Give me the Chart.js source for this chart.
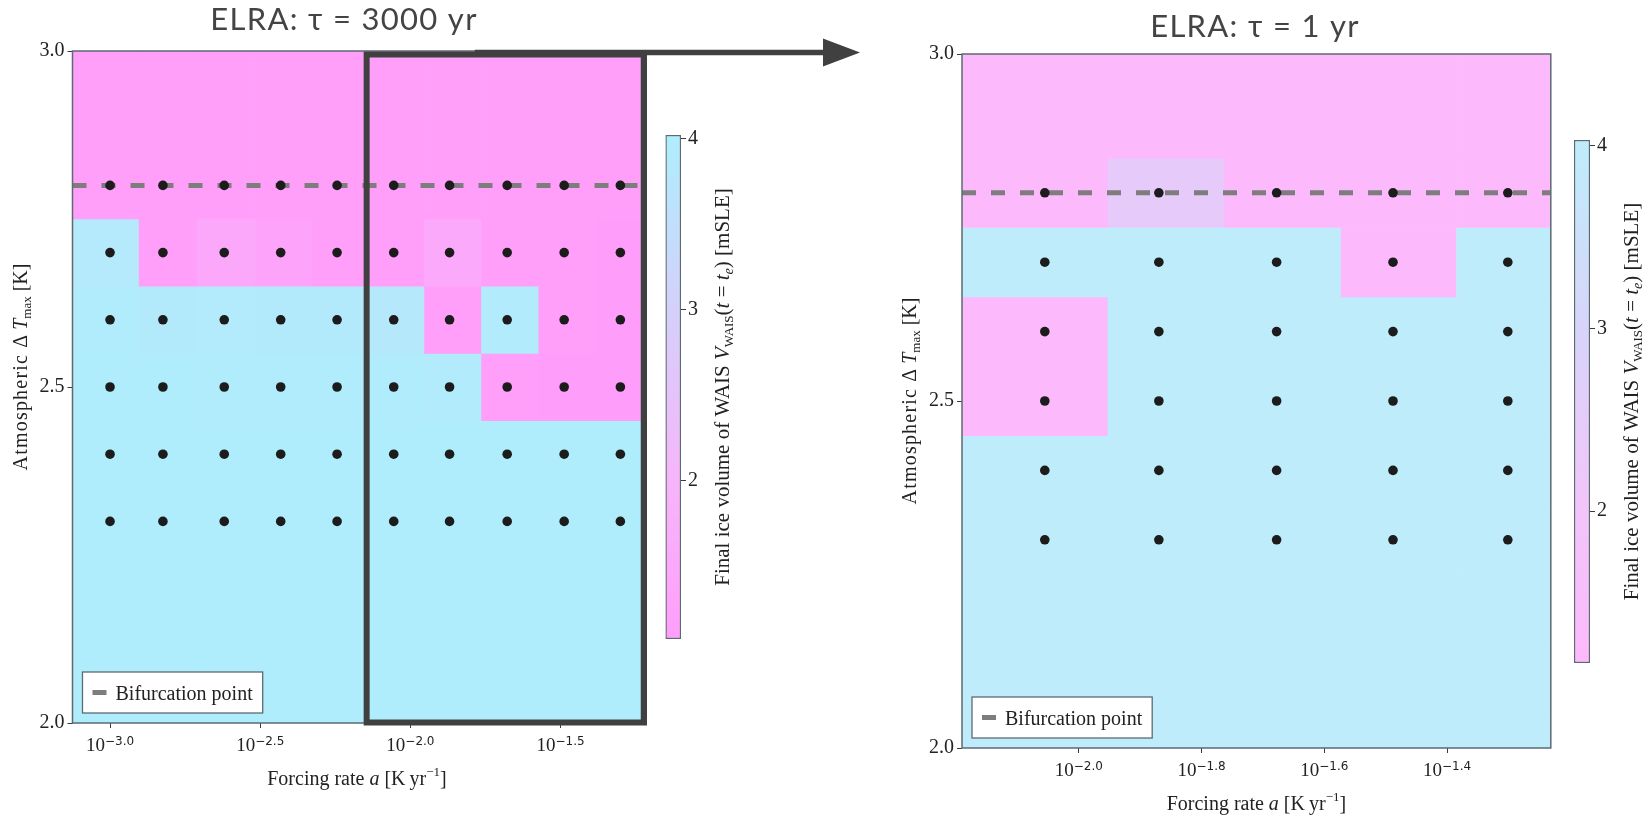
<!DOCTYPE html>
<html>
<head>
<meta charset="utf-8">
<title>ELRA forcing-rate experiments</title>
<script src="https://cdn.jsdelivr.net/npm/chart.js@4.4.1/dist/chart.umd.min.js"></script>
<style>
  html, body { margin: 0; padding: 0; background: #ffffff; }
  body { width: 1648px; height: 818px; position: relative; overflow: hidden; }
  canvas { position: absolute; top: 0; }
</style>
</head>
<body>
<canvas id="mapSlow" width="880" height="818" style="left:0px"></canvas>
<canvas id="barSlow" width="200" height="818" style="left:600px"></canvas>
<canvas id="mapFast" width="768" height="818" style="left:880px"></canvas>
<canvas id="barFast" width="168" height="818" style="left:1480px"></canvas>
<script>
// ---------------------------------------------------------------------------
// Data
// ---------------------------------------------------------------------------
// Rows of the result grid: maximum atmospheric warming (K), bottom to top.
const tempLevels = [2.0, 2.1, 2.2, 2.3, 2.4, 2.5, 2.6, 2.7, 2.8, 2.9, 3.0];
// Warming levels at which model runs were made (dots).
const simulatedTemps = [2.3, 2.4, 2.5, 2.6, 2.7, 2.8];
// Warming at the bifurcation point (dashed line).
const bifurcationTemp = 2.8;

// Forcing rates a (K/yr).
const ratesSlow = [0.001, 0.0015, 0.0024, 0.0037, 0.0057, 0.0088, 0.0135, 0.021, 0.0325, 0.05];
const ratesFast = [0.0088, 0.0135, 0.021, 0.0325, 0.05];

// Final WAIS ice volume (mSLE); one row per entry of tempLevels.
const volumeSlow = [
  [3.98, 3.98, 3.98, 3.98, 3.98, 3.98, 3.98, 3.98, 3.98, 3.98], // 2.0
  [3.98, 3.98, 3.98, 3.98, 3.98, 3.98, 3.98, 3.98, 3.98, 3.98], // 2.1
  [3.98, 3.98, 3.98, 3.98, 3.98, 3.98, 3.98, 3.98, 3.98, 3.98], // 2.2
  [3.98, 3.98, 3.98, 3.98, 3.98, 3.98, 3.98, 3.98, 3.98, 3.98], // 2.3
  [3.98, 3.98, 3.98, 3.98, 3.98, 3.97, 3.97, 3.97, 3.97, 3.97], // 2.4
  [3.97, 3.97, 3.96, 3.96, 3.95, 3.94, 3.93, 1.10, 1.09, 1.09], // 2.5
  [3.96, 3.90, 3.89, 3.90, 3.90, 3.80, 1.11, 3.93, 1.10, 1.09], // 2.6
  [3.84, 1.12, 1.45, 1.28, 1.12, 1.10, 1.52, 1.11, 1.10, 1.09], // 2.7
  [1.10, 1.10, 1.10, 1.10, 1.10, 1.10, 1.10, 1.10, 1.10, 1.10], // 2.8
  [1.10, 1.10, 1.10, 1.10, 1.10, 1.10, 1.10, 1.10, 1.10, 1.10], // 2.9
  [1.10, 1.10, 1.10, 1.10, 1.10, 1.10, 1.10, 1.10, 1.10, 1.10]  // 3.0
];
const volumeFast = [
  [4.00, 4.00, 4.00, 4.00, 4.00], // 2.0
  [4.00, 4.00, 4.00, 4.00, 4.00], // 2.1
  [4.00, 4.00, 4.00, 4.00, 4.00], // 2.2
  [4.00, 4.00, 4.00, 4.00, 4.00], // 2.3
  [4.00, 4.00, 4.00, 4.00, 4.00], // 2.4
  [1.20, 4.00, 4.00, 4.00, 4.00], // 2.5
  [1.20, 4.00, 4.00, 4.00, 4.00], // 2.6
  [4.00, 4.00, 4.00, 1.20, 4.00], // 2.7
  [1.20, 2.45, 1.20, 1.20, 1.20], // 2.8
  [1.20, 1.20, 1.20, 1.20, 1.20], // 2.9
  [1.20, 1.20, 1.20, 1.20, 1.20]  // 3.0
];

// Tick labels.
const rateTickExponentsSlow = [-3.0, -2.5, -2.0, -1.5];
const rateTickExponentsFast = [-2.0, -1.8, -1.6, -1.4];
const tempTicks = [2.0, 2.5, 3.0];
const volumeTicks = [2, 3, 4];
// Colour-bar limits (mSLE).
const volumeRangeSlow = [1.076, 4.02];
const volumeRangeFast = [1.17, 4.03];

// Text.
const titleSlow = 'ELRA: \u03c4 = 3000 yr';
const titleFast = 'ELRA: \u03c4 = 1 yr';
const bifurcationLabel = 'Bifurcation point';

// ---------------------------------------------------------------------------
// Styles
// ---------------------------------------------------------------------------
const SERIF = '"Liberation Serif", "DejaVu Serif", serif';
const SANS = '"DejaVu Sans", sans-serif';
const font = (size, style) => `${style || ''} ${size}px ${SERIF}`.trim();
const INK = '#222222';
const SPINE = '#5c6a72';
const TICK = '#3a3a3a';
const DOT = '#1c1c1c';
const DASH = '#7d7d7d';
const FRAME = '#404040';
const TITLE_INK = '#444444';
const TITLE_FONT = '400 31px Lato, "Open Sans", sans-serif';
const TITLE_SPACING = '1.3px';

// Colour ramps (pink = ice sheet lost, cyan = ice sheet retained).
const rampSlow = [
  { v: 1.076, c: [255, 158, 250] },
  { v: 2.0,   c: [246, 181, 250] },
  { v: 3.0,   c: [212, 208, 250] },
  { v: 4.02,  c: [174, 238, 252] }
];
const rampFast = [
  { v: 1.17, c: [252, 185, 252] },
  { v: 2.0,  c: [242, 196, 250] },
  { v: 3.0,  c: [216, 212, 249] },
  { v: 4.03, c: [190, 237, 251] }
];

function rampColor(ramp, v) {
  if (v <= ramp[0].v) return `rgb(${ramp[0].c.join(',')})`;
  for (let i = 1; i < ramp.length; i++) {
    if (v <= ramp[i].v) {
      const a = ramp[i - 1], b = ramp[i];
      const t = (v - a.v) / (b.v - a.v);
      const c = a.c.map((x, k) => Math.round(x + (b.c[k] - x) * t));
      return `rgb(${c.join(',')})`;
    }
  }
  return `rgb(${ramp[ramp.length - 1].c.join(',')})`;
}

// Cell edges halfway between neighbouring rates, extended symmetrically at both ends.
function cellEdges(rates) {
  const e = [];
  for (let i = 1; i < rates.length; i++) e[i] = (rates[i - 1] + rates[i]) / 2;
  e[0] = rates[0] - (e[1] - rates[0]);
  e[rates.length] = rates[rates.length - 1] + (rates[rates.length - 1] - e[rates.length - 1]);
  return e;
}

function gridCells(rates, grid) {
  const e = cellEdges(rates);
  const out = [];
  tempLevels.forEach((T, i) => {
    rates.forEach((r, j) => out.push({ x: [e[j], e[j + 1]], y: T, v: grid[i][j] }));
  });
  return out;
}

// Draws a run of text pieces (normal, italic, sub/superscript) on one baseline.
function drawRich(ctx, parts, x, y, align) {
  let total = 0;
  parts.forEach(p => {
    ctx.font = p.font;
    ctx.letterSpacing = p.ls || '0px';
    p.w = ctx.measureText(p.text).width;
    total += p.w;
  });
  let cx = align === 'center' ? x - total / 2 : x;
  ctx.textAlign = 'left';
  ctx.textBaseline = 'alphabetic';
  parts.forEach(p => {
    ctx.font = p.font;
    ctx.letterSpacing = p.ls || '0px';
    ctx.fillText(p.text, cx, y + (p.dy || 0));
    cx += p.w;
  });
  ctx.letterSpacing = '0px';
}

const yTitleParts = () => [
  { text: 'Atmospheric ', font: font(20), ls: '1.2px' },
  { text: '\u0394 ', font: font(20) },
  { text: 'T', font: font(20, 'italic') },
  { text: 'max', font: font(13), dy: 4 },
  { text: ' [K]', font: font(20) }
];
const xTitleParts = () => [
  { text: 'Forcing rate ', font: font(20) },
  { text: 'a', font: font(20, 'italic') },
  { text: ' [K\u2009yr', font: font(20) },
  { text: '\u22121', font: font(13), dy: -9 },
  { text: ']', font: font(20) }
];
const cbarTitleParts = () => [
  { text: 'Final ice volume of WAIS ', font: font(21) },
  { text: 'V', font: font(21, 'italic') },
  { text: 'WAIS', font: font(13), dy: 4 },
  { text: '(', font: font(21) },
  { text: 't', font: font(21, 'italic') },
  { text: ' = ', font: font(21) },
  { text: 't', font: font(21, 'italic') },
  { text: 'e', font: font(14, 'italic'), dy: 4 },
  { text: ') [mSLE]', font: font(21) }
];

// ---------------------------------------------------------------------------
// Heat-map panel
// ---------------------------------------------------------------------------
function heatPanel(id, cfg) {
  const edges = cellEdges(cfg.rates);
  const xMin = edges[0], xMax = edges[edges.length - 1];

  const dots = [];
  simulatedTemps.forEach(T => cfg.rates.forEach(r => dots.push({ x: r, y: T })));

  const panelDecor = {
    id: 'panelDecor',
    afterDatasetsDraw(chart) {
      const { ctx, chartArea: a } = chart;
      ctx.save();
      // axes box
      ctx.strokeStyle = SPINE;
      ctx.lineWidth = 1.5;
      ctx.strokeRect(a.left, a.top, a.right - a.left, a.bottom - a.top);

      // legend for the dashed line
      const ds = chart.data.datasets[1];
      ctx.font = font(20);
      const tw = ctx.measureText(ds.label).width;
      const bw = tw + 43, bh = 41;
      const bx = a.left + 10, by = a.bottom - 10 - bh;
      ctx.fillStyle = '#ffffff';
      ctx.fillRect(bx, by, bw, bh);
      ctx.strokeStyle = SPINE;
      ctx.lineWidth = 1.3;
      ctx.strokeRect(bx, by, bw, bh);
      ctx.strokeStyle = ds.borderColor;
      ctx.lineWidth = ds.borderWidth;
      ctx.beginPath();
      ctx.moveTo(bx + 10, by + bh / 2);
      ctx.lineTo(bx + 24, by + bh / 2);
      ctx.stroke();
      ctx.fillStyle = INK;
      ctx.textBaseline = 'alphabetic';
      ctx.textAlign = 'left';
      ctx.fillText(ds.label, bx + 33, by + bh / 2 + 7);
      ctx.restore();
    },
    afterDraw(chart) {
      const { ctx, chartArea: a, scales: { x } } = chart;
      ctx.save();
      ctx.fillStyle = INK;

      // x tick labels as powers of ten
      x.ticks.forEach(t => {
        const px = x.getPixelForValue(t.value);
        const exp = Math.log10(t.value);
        const sup = (exp < 0 ? '\u2212' : '') + Math.abs(exp).toFixed(1);
        const base = a.bottom + 28;
        drawRich(ctx, [
          { text: '10', font: font(19) },
          { text: sup, font: `12px ${SANS}`, dy: -6 }
        ], px, base, 'center');
      });

      // axis titles
      drawRich(ctx, xTitleParts(), (a.left + a.right) / 2, a.bottom + 62, 'center');
      ctx.save();
      ctx.translate(a.left - 46, (a.top + a.bottom) / 2 + cfg.yTitleShift);
      ctx.rotate(-Math.PI / 2);
      drawRich(ctx, yTitleParts(), 0, 0, 'center');
      ctx.restore();

      // panel title
      ctx.font = TITLE_FONT;
      ctx.letterSpacing = TITLE_SPACING;
      ctx.fillStyle = TITLE_INK;
      ctx.textAlign = 'center';
      ctx.textBaseline = 'alphabetic';
      ctx.fillText(cfg.title, cfg.titleX, cfg.titleY);
      ctx.letterSpacing = '0px';

      // window shown enlarged in the other panel, with pointer arrow
      if (cfg.zoomRates) {
        const k = cfg.rates.indexOf(cfg.zoomRates[0]);
        const left = x.getPixelForValue(edges[k]) - 1.8;
        const right = x.getPixelForValue(edges[edges.length - 1]) + 2.6;
        const top = a.top + 3.5, bottom = a.bottom - 0.5;
        ctx.strokeStyle = FRAME;
        ctx.lineWidth = 6;
        ctx.strokeRect(left, top, right - left, bottom - top);
        const ay = a.top + 1.5;
        const ax0 = left + (right - left) * 0.39;
        const tipX = cfg.arrowTipX, headLen = 37, headHalf = 14;
        ctx.lineWidth = 5.5;
        ctx.beginPath();
        ctx.moveTo(ax0, ay);
        ctx.lineTo(tipX - headLen + 2, ay);
        ctx.stroke();
        ctx.fillStyle = FRAME;
        ctx.beginPath();
        ctx.moveTo(tipX - headLen, ay - headHalf);
        ctx.lineTo(tipX, ay);
        ctx.lineTo(tipX - headLen, ay + headHalf);
        ctx.closePath();
        ctx.fill();
      }
      ctx.restore();
    }
  };

  return new Chart(document.getElementById(id), {
    type: 'bar',
    data: {
      datasets: [
        {
          type: 'scatter',
          label: 'Model runs',
          data: dots,
          pointRadius: 4.8,
          pointBackgroundColor: DOT,
          pointBorderWidth: 0,
          order: 0
        },
        {
          type: 'line',
          label: bifurcationLabel,
          data: [{ x: xMin, y: bifurcationTemp }, { x: xMax, y: bifurcationTemp }],
          borderColor: DASH,
          borderWidth: 5,
          borderDash: [14, 15],
          pointRadius: 0,
          fill: false,
          order: 1
        },
        {
          type: 'bar',
          label: 'Final ice volume',
          indexAxis: 'y',
          data: gridCells(cfg.rates, cfg.volume),
          backgroundColor: c => rampColor(cfg.ramp, c.raw ? c.raw.v : 0),
          borderWidth: 0,
          barPercentage: 1,
          categoryPercentage: 1,
          clip: 0,
          order: 2
        }
      ]
    },
    options: {
      responsive: false,
      animation: false,
      events: [],
      layout: { padding: cfg.padding },
      plugins: { legend: { display: false }, tooltip: { enabled: false }, title: { display: false } },
      scales: {
        x: {
          type: 'logarithmic',
          position: 'bottom',
          min: xMin,
          max: xMax,
          bounds: 'data',
          offset: false,
          beginAtZero: false,
          afterBuildTicks: s => { s.ticks = cfg.tickExponents.map(e => ({ value: Math.pow(10, e) })); },
          afterFit: s => { s.height = 40; },
          ticks: { callback: () => '', autoSkip: false, maxRotation: 0 },
          grid: { drawOnChartArea: false, drawTicks: true, tickLength: 5, tickColor: TICK, offset: false },
          border: { display: false }
        },
        y: {
          type: 'linear',
          position: 'left',
          min: 2,
          max: 3,
          offset: false,
          beginAtZero: false,
          afterBuildTicks: s => { s.ticks = tempTicks.map(v => ({ value: v })); },
          afterFit: s => { s.width = 60; },
          ticks: {
            callback: v => Number(v).toFixed(1),
            font: { family: SERIF, size: 20 },
            color: INK,
            padding: 3,
            autoSkip: false
          },
          grid: { drawOnChartArea: false, drawTicks: true, tickLength: 5, tickColor: TICK, offset: false },
          border: { display: false }
        }
      }
    },
    plugins: [panelDecor]
  });
}

// ---------------------------------------------------------------------------
// Colour bar
// ---------------------------------------------------------------------------
function colorBar(id, range, ramp, padding) {
  const [vmin, vmax] = range;
  const barTitle = {
    id: 'barTitle',
    afterDraw(chart) {
      const { ctx, chartArea: a } = chart;
      ctx.save();
      ctx.fillStyle = INK;
      ctx.translate(a.right + 48, (a.top + a.bottom) / 2);
      ctx.rotate(-Math.PI / 2);
      drawRich(ctx, cbarTitleParts(), 0, 0, 'center');
      ctx.restore();
    }
  };
  return new Chart(document.getElementById(id), {
    type: 'bar',
    data: {
      labels: [''],
      datasets: [{
        data: [[vmin, vmax]],
        backgroundColor: c => {
          const chart = c.chart;
          if (!chart.chartArea || !chart.scales.y) return 'rgba(0,0,0,0)';
          const ys = chart.scales.y;
          const g = chart.ctx.createLinearGradient(0, ys.getPixelForValue(vmin), 0, ys.getPixelForValue(vmax));
          ramp.forEach(s => g.addColorStop(Math.min(1, Math.max(0, (s.v - vmin) / (vmax - vmin))), `rgb(${s.c.join(',')})`));
          return g;
        },
        borderColor: SPINE,
        borderWidth: 1.5,
        borderSkipped: false,
        barPercentage: 1,
        categoryPercentage: 1
      }]
    },
    options: {
      responsive: false,
      animation: false,
      events: [],
      layout: { padding },
      plugins: { legend: { display: false }, tooltip: { enabled: false } },
      scales: {
        x: { display: false },
        y: {
          position: 'right',
          min: vmin,
          max: vmax,
          beginAtZero: false,
          afterBuildTicks: s => { s.ticks = volumeTicks.map(v => ({ value: v })); },
          afterFit: s => { s.width = 40; },
          ticks: { callback: v => String(v), font: { family: SERIF, size: 20 }, color: INK, padding: 2 },
          grid: { drawOnChartArea: false, drawTicks: true, tickLength: 5, tickColor: TICK },
          border: { display: false }
        }
      }
    },
    plugins: [barTitle]
  });
}

heatPanel('mapSlow', {
  rates: ratesSlow,
  volume: volumeSlow,
  ramp: rampSlow,
  tickExponents: rateTickExponentsSlow,
  title: titleSlow,
  titleX: 344,
  titleY: 30,
  yTitleShift: -20,
  zoomRates: ratesFast,
  arrowTipX: 860,
  padding: { left: 12.5, right: 238.6, top: 51, bottom: 55 }
});

heatPanel('mapFast', {
  rates: ratesFast,
  volume: volumeFast,
  ramp: rampFast,
  tickExponents: rateTickExponentsFast,
  title: titleFast,
  titleX: 375,
  titleY: 37,
  yTitleShift: 0,
  zoomRates: null,
  padding: { left: 22, right: 97.2, top: 54, bottom: 30 }
});

colorBar('barSlow', volumeRangeSlow, rampSlow, { left: 65.5, right: 79, top: 135, bottom: 179 });
colorBar('barFast', volumeRangeFast, rampFast, { left: 94, right: 18, top: 140, bottom: 155 });
</script>
</body>
</html>
